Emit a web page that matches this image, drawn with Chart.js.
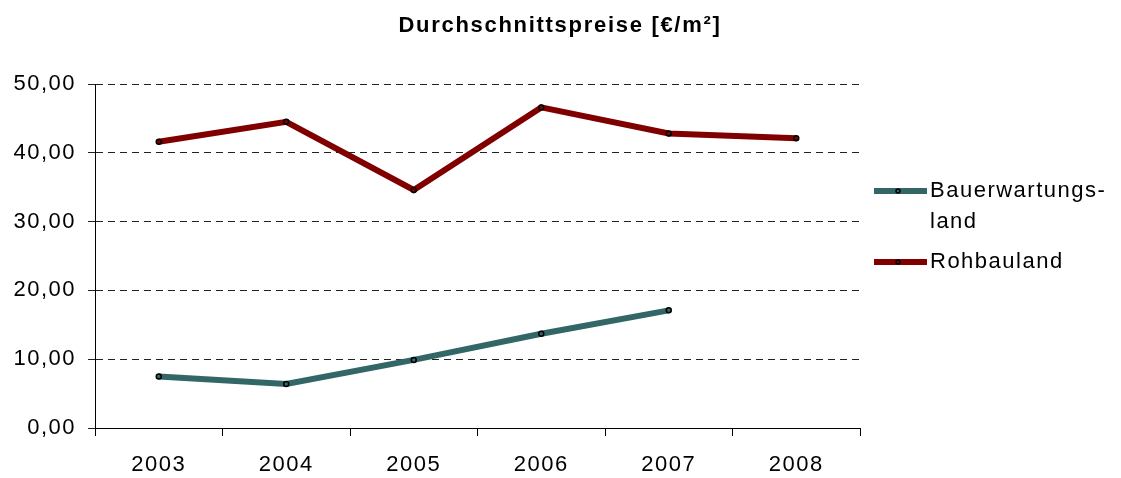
<!DOCTYPE html>
<html>
<head>
<meta charset="utf-8">
<script src="https://cdn.jsdelivr.net/npm/chart.js@4/dist/chart.umd.min.js"></script>
<style>
  html, body { margin: 0; padding: 0; background: #fff; }
  #wrap { width: 1121px; height: 478px; }
</style>
</head>
<body>
<div id="wrap"><canvas id="myChart" width="1121" height="478"></canvas></div>
<script>
var years = ['2003', '2004', '2005', '2006', '2007', '2008'];
var bauerwartungsland = [7.5, 6.4, 9.9, 13.7, 17.1, null];
var rohbauland = [41.6, 44.5, 34.6, 46.6, 42.8, 42.1];
var legendLines = [['Bauerwartungs-', 'land'], ['Rohbauland']];
var title = 'Durchschnittspreise [€/m²]';

var FONT = '"Liberation Sans", Arial, sans-serif';

// the source text is a bit stretched, so widen it with letter spacing
var spacing = {
  id: 'spacing',
  beforeLayout: function(chart) { chart.ctx.letterSpacing = '1.5px'; },
  beforeDraw: function(chart) { chart.ctx.letterSpacing = '1.5px'; }
};

// title + wrapped legend, drawn by hand
var extras = {
  id: 'extras',
  afterDraw: function(chart) {
    var ctx = chart.ctx;
    ctx.save();
    ctx.fillStyle = '#000';
    ctx.letterSpacing = '1.7px';
    ctx.font = 'bold 22px ' + FONT;
    ctx.textAlign = 'center';
    ctx.textBaseline = 'alphabetic';
    ctx.fillText(title, 560, 32);

    var y = 191;
    ctx.letterSpacing = '1.5px';
    ctx.font = '22px ' + FONT;
    ctx.textAlign = 'left';
    ctx.textBaseline = 'middle';
    chart.data.datasets.forEach(function(ds, i) {
      ctx.strokeStyle = ds.borderColor;
      ctx.lineWidth = 6;
      ctx.beginPath();
      ctx.moveTo(874, y);
      ctx.lineTo(927, y);
      ctx.stroke();
      ctx.beginPath();
      ctx.arc(898, y, 2, 0, Math.PI * 2);
      ctx.lineWidth = 1.5;
      ctx.strokeStyle = '#000';
      ctx.stroke();
      ctx.fillStyle = '#000';
      legendLines[i].forEach(function(t, j) {
        ctx.fillText(t, 930, y + j * 31);
      });
      y += legendLines[i].length * 31 + 9;
    });
    ctx.restore();
  }
};

var ctx = document.getElementById('myChart').getContext('2d');
var chart = new Chart(ctx, {
  type: 'line',
  data: {
    labels: years,
    datasets: [
      {
        label: 'Bauerwartungsland',
        data: bauerwartungsland,
        borderColor: '#336666',
        backgroundColor: '#336666',
        borderWidth: 6,
        pointRadius: 2.5,
        pointBorderColor: '#000',
        pointBorderWidth: 1.5,
        tension: 0
      },
      {
        label: 'Rohbauland',
        data: rohbauland,
        borderColor: '#800000',
        backgroundColor: '#800000',
        borderWidth: 6,
        pointRadius: 2.5,
        pointBorderColor: '#000',
        pointBorderWidth: 1.5,
        tension: 0
      }
    ]
  },
  options: {
    responsive: false,
    animation: false,
    layout: { padding: { top: 84, right: 261, left: 0, bottom: 0 } },
    plugins: {
      legend: { display: false },
      title: { display: false },
      tooltip: { enabled: false }
    },
    scales: {
      x: {
        offset: true,
        grid: {
          offset: true,
          drawOnChartArea: false,
          drawTicks: true,
          tickLength: 8,
          tickColor: '#000'
        },
        border: { color: '#000', width: 1 },
        ticks: {
          color: '#000',
          font: { family: FONT, size: 22 },
          padding: 16,
          maxRotation: 0
        },
        afterFit: function(scale) { scale.height = 50; }
      },
      y: {
        min: 0,
        max: 50,
        grid: {
          color: '#222',
          lineWidth: 1,
          tickLength: 7,
          tickColor: '#222'
        },
        border: { color: '#000', width: 1, dash: [7, 5] },
        ticks: {
          stepSize: 10,
          color: '#000',
          font: { family: FONT, size: 22 },
          padding: 12,
          callback: function(v) {
            return v.toLocaleString('de-DE', { minimumFractionDigits: 2, maximumFractionDigits: 2 });
          }
        },
        afterFit: function(scale) { scale.width = 95; }
      }
    }
  },
  plugins: [spacing, extras]
});
</script>
</body>
</html>
